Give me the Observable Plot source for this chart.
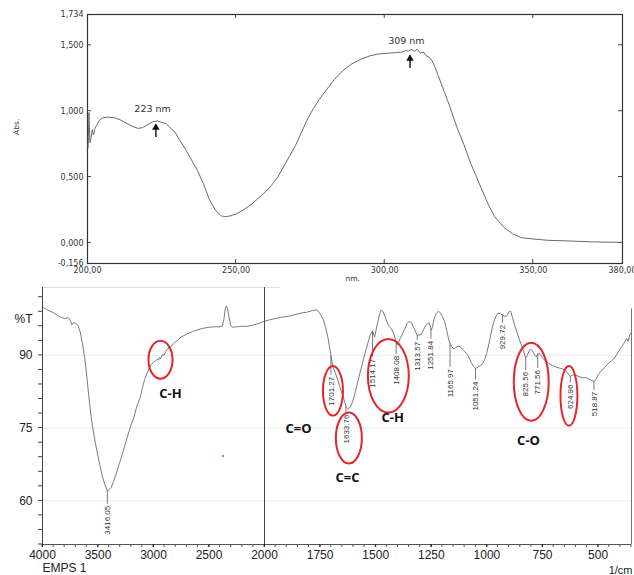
<!DOCTYPE html>
<html><head><meta charset="utf-8">
<script src="https://cdn.jsdelivr.net/npm/d3@7"></script>
<script src="https://cdn.jsdelivr.net/npm/@observablehq/plot@0.6"></script>
<style>
html,body{margin:0;padding:0;background:#fff;}
#chart svg{display:block;}
</style></head><body><div id="chart"></div>
<script>
// ---------- UV-Vis spectrum (top) ----------
const uvNm = [200.2,200.5,200.8,201.2,201.6,202.0,202.5,203,204,205,207,209,211,213,215,217,218.5,220,222,223.5,225,226.5,228,229.5,231,233,235,237,239,241,243,245,246.5,248,250,252,255,258,260,262,264,266,268,270,272,274,276,278,280,283,286,289,292,295,298,301,304,306,307,308,309,310,311,312,313,314,315,316,317,318,319,320,321,322,323,324.6,326.6,329,332,334.7,337,340,343,346,350,355,362,370,380];
const uvAbs = [0.72,0.99,0.76,0.80,0.86,0.82,0.87,0.89,0.93,0.95,0.955,0.95,0.935,0.91,0.885,0.87,0.875,0.895,0.92,0.926,0.915,0.905,0.87,0.84,0.78,0.71,0.63,0.55,0.45,0.33,0.25,0.205,0.20,0.205,0.22,0.245,0.29,0.35,0.39,0.44,0.50,0.58,0.66,0.74,0.84,0.94,1.02,1.09,1.15,1.24,1.31,1.36,1.395,1.42,1.435,1.44,1.445,1.45,1.46,1.455,1.47,1.455,1.47,1.44,1.45,1.42,1.41,1.38,1.33,1.27,1.21,1.15,1.09,1.03,0.96,0.86,0.75,0.60,0.44,0.30,0.20,0.12,0.07,0.04,0.03,0.02,0.015,0.008,0.004];
const uvYTicks = [-0.156, 0, 0.5, 1, 1.5, 1.734];
const uvYInner = [0, 0.5, 1, 1.5];
const uvXTicks = [200, 250, 300, 350, 380];
const uvXInner = [250, 300, 350];
const uvPeakText = ["223 nm", "309 nm"];
const uvPeakNm = [223, 308.5];
const uvArrowBase = [0.80, 1.325];
const uvArrowTip = [0.875, 1.40];
const uvLabelNm = [221.9, 307.3];
const uvLabelAbs = [1.02, 1.53];

// ---------- FTIR spectrum (bottom) ----------
const irWn = [3990,3950,3900,3850,3800,3770,3750,3735,3720,3700,3680,3660,3640,3620,3600,3580,3560,3540,3520,3500,3480,3460,3440,3420,3416,3400,3380,3360,3340,3320,3300,3280,3260,3240,3220,3200,3180,3150,3120,3100,3080,3060,3040,3020,3000,2980,2965,2955,2945,2935,2920,2905,2890,2870,2850,2820,2790,2750,2700,2650,2600,2550,2500,2450,2400,2380,2365,2355,2345,2335,2320,2305,2290,2250,2200,2150,2100,2050,2020,2000,1980,1950,1920,1900,1870,1840,1810,1780,1765,1755,1745,1735,1725,1715,1705,1700,1690,1680,1670,1660,1650,1640,1633,1625,1615,1605,1595,1585,1575,1565,1555,1545,1535,1525,1514,1505,1497,1490,1482,1475,1467,1460,1450,1440,1430,1420,1410,1405,1398,1390,1380,1370,1360,1350,1340,1330,1320,1313,1305,1295,1285,1275,1265,1258,1251,1245,1238,1228,1218,1210,1200,1190,1180,1172,1166,1158,1148,1140,1130,1120,1110,1100,1090,1080,1070,1060,1051,1040,1030,1020,1010,1000,990,980,970,960,950,940,930,920,910,900,893,885,876,865,855,845,835,826,818,810,802,795,785,778,771,764,755,745,735,720,705,690,675,660,650,640,630,625,615,605,595,585,570,555,545,530,519,510,500,490,480,470,460,450,440,430,420,410,400,390,380,372,365,358,352];
const irT = [99.8,99.3,98.8,98.0,97.6,97.8,97.2,96.3,96.8,96.6,96.1,94.8,92.5,89.5,85.5,81.0,77.0,74.0,71.5,69.2,67.0,65.0,63.5,62.3,62.0,62.3,62.8,64.0,65.3,66.8,68.2,69.7,71.3,72.8,74.4,75.8,77.0,79.5,81.3,83.3,85.0,86.2,87.3,88.1,88.6,88.9,89.3,89.0,89.6,89.3,90.2,90.0,90.8,91.4,91.6,92.4,93.0,93.8,94.4,94.9,95.3,95.6,95.8,95.9,95.9,96.0,97.5,99.5,100.2,99.8,98.0,96.2,95.8,95.9,96.0,96.0,96.3,96.6,96.9,97.0,97.3,97.6,97.9,98.0,98.3,98.7,98.9,99.3,99.4,98.9,98.2,97.3,95.7,93.7,91.0,89.5,87.3,86.2,84.8,83.3,82.0,80.5,79.4,79.0,79.3,80.3,81.8,83.8,85.6,87.4,89.2,90.9,92.6,94.2,95.0,93.8,95.5,97.0,98.6,99.4,99.0,98.3,97.0,96.0,95.5,94.6,93.0,92.2,92.5,93.5,94.4,95.4,96.5,97.0,96.8,95.8,94.8,94.2,94.2,94.3,95.3,96.2,96.6,96.6,95.2,95.8,97.5,98.7,99.1,98.8,98.0,97.0,95.0,93.3,92.5,91.8,91.3,91.6,91.9,91.8,91.3,90.8,90.3,89.5,88.5,87.7,87.3,87.6,87.9,88.2,89.2,90.6,92.6,94.8,96.8,98.0,98.7,98.6,98.3,98.0,98.2,99.0,99.1,97.8,96.3,94.8,93.4,92.1,90.8,89.5,90.0,91.0,91.3,90.9,90.1,89.7,90.3,90.4,89.8,89.2,88.8,88.3,87.9,87.6,87.4,87.2,87.0,86.5,85.9,85.7,85.9,86.0,85.8,85.6,85.4,85.4,85.2,84.9,84.6,85.0,86.0,86.6,87.1,87.5,88.1,88.5,88.9,89.3,89.9,90.7,91.4,92.0,92.8,93.5,92.9,94.2,94.6];
const irPeakLabel = ["3416.05","1701.27","1633.76","1514.17","1408.08","1313.57","1251.84","1165.97","1051.24","929.72","825.56","771.56","624.96","518.87"];
const irPeakWn = [3416.05,1701.27,1633.76,1514.17,1408.08,1313.57,1251.84,1165.97,1051.24,929.72,825.56,771.56,624.96,518.87];
const irPeakCurveT = [62.0,89.8,79.4,95.0,92.5,94.2,95.2,92.4,87.3,98.3,89.5,90.3,85.7,84.6];
const irPeakLabelT = [59.3,85.9,78.1,89.6,90.2,93.1,93.3,87.5,84.9,96.6,86.9,87.3,84.3,82.8];
const irXMajor = [4000,3500,3000,2500,2000,1750,1500,1250,1000,750,500];
const irXMinor = [...d3.range(4000, 2000, -100), ...d3.range(2000, 349, -50)];
const irYMinor = d3.range(51, 104, 3);
const irYLabels = [60, 75, 90];
const bandName = ["C-H","C=O","C=C","C-H","C-O"];
const bandWn = [2847,1847,1627,1424,813];
const bandT = [82.0,74.8,64.7,77.1,72.3];
const ringWn1 = [3041,1735,1677,1533,877,667];
const ringWn2 = [2824,1645,1560,1349,720,591];
const ringT1 = [92.9,87.7,78.1,93.3,92.5,87.7];
const ringT2 = [85.1,77.5,67.6,78.1,76.4,75.4];

const fmtAbs = d => (d < 0 ? "-" : "") + Math.abs(d).toFixed(3).replace(".", ",");
const fmtNm = d => d.toFixed(2).replace(".", ",");

// tick marks drawn with the plot's own scales (side: left/right/top/bottom, len > 0 outward, < 0 inward)
function frameTicks(values, side, len, stroke) {
  return (index, scales, channels, dim) => {
    const g = d3.create("svg:g").attr("stroke", stroke).attr("stroke-width", 1);
    const L = dim.marginLeft, R = dim.width - dim.marginRight, T = dim.marginTop, B = dim.height - dim.marginBottom;
    for (const v of values) {
      if (side === "left" || side === "right") {
        const y = scales.y(v), x0 = side === "left" ? L : R, k = side === "left" ? -1 : 1;
        g.append("line").attr("x1", x0).attr("x2", x0 + k * len).attr("y1", y).attr("y2", y);
      } else {
        const x = scales.x(v), y0 = side === "top" ? T : B, k = side === "top" ? -1 : 1;
        g.append("line").attr("x1", x).attr("x2", x).attr("y1", y0).attr("y2", y0 + k * len);
      }
    }
    return g.node();
  };
}

const uvData = uvNm.map((x, i) => ({x, y: uvAbs[i]}));
const uvPeaks = uvPeakNm.map((x, i) => ({x, y1: uvArrowBase[i], y2: uvArrowTip[i], lx: uvLabelNm[i], ly: uvLabelAbs[i], t: uvPeakText[i]}));

const topPlot = Plot.plot({
  width: 634, height: 285,
  marginLeft: 87, marginRight: 12, marginTop: 14, marginBottom: 22,
  style: {fontFamily: "DejaVu Sans", fontSize: "8px", color: "#333", background: "white", overflow: "visible"},
  x: {domain: [200, 380], label: null},
  y: {domain: [-0.156, 1.734], label: null},
  marks: [
    Plot.axisY(uvYTicks, {anchor: "left", tickSize: 0, tickPadding: 4, tickFormat: fmtAbs, fontSize: 8, label: null}),
    Plot.axisX(uvXTicks, {anchor: "bottom", tickSize: 0, tickPadding: 4, tickFormat: fmtNm, fontSize: 8, label: null}),
    frameTicks(uvYInner, "left", -4, "#444"),
    frameTicks(uvYInner, "right", -4, "#444"),
    frameTicks(uvXInner, "bottom", -4, "#444"),
    frameTicks(uvXInner, "top", -4, "#444"),
    Plot.frame({stroke: "#333", strokeWidth: 1.2}),
    Plot.line(uvData, {x: "x", y: "y", stroke: "#6a6a6a", strokeWidth: 1}),
    Plot.ruleX(uvPeaks, {x: "x", y1: "y1", y2: "y2", stroke: "#111", strokeWidth: 1.4}),
    Plot.dot(uvPeaks, {x: "x", y: "y2", symbol: "triangle", r: 2.8, fill: "#111"}),
    Plot.text(uvPeaks, {x: "lx", y: "ly", text: "t", fontSize: 9.5, fill: "#333"}),
    Plot.text(["Abs."], {frameAnchor: "left", y: () => 0.82, dx: -71, rotate: -90, fontSize: 7.5, fill: "#333"}),
    Plot.text(["nm."], {x: () => 289.2, frameAnchor: "bottom", dy: 17, fontSize: 7.5, fill: "#333"})
  ]
});

const irData = irWn.map((x, i) => ({x, y: irT[i]}));
const irPeaks = irPeakWn.map((x, i) => ({x, tc: irPeakCurveT[i], tl: irPeakLabelT[i], label: irPeakLabel[i]}));
const bands = bandName.map((t, i) => ({t, x: bandWn[i], y: bandT[i]}));

function rings(index, {x, y}) {
  const g = d3.create("svg:g");
  ringWn1.forEach((w, i) => {
    const x1 = x(w), x2 = x(ringWn2[i]), y1 = y(ringT1[i]), y2 = y(ringT2[i]);
    g.append("ellipse")
      .attr("cx", (x1 + x2) / 2).attr("cy", (y1 + y2) / 2)
      .attr("rx", Math.abs(x2 - x1) / 2).attr("ry", Math.abs(y2 - y1) / 2)
      .attr("fill", "none").attr("stroke", "#e3262b").attr("stroke-width", 2);
  });
  return g.node();
}

const bottomPlot = Plot.plot({
  width: 634, height: 290,
  marginLeft: 42, marginRight: 3, marginTop: 2, marginBottom: 31,
  style: {fontFamily: "Liberation Sans, Arial, sans-serif", fontSize: "12px", color: "#222", background: "white", overflow: "visible"},
  x: {type: "linear", domain: [4000, 2000, 350], range: [42, 264, 631], label: null},
  y: {domain: [51, 104], label: null},
  marks: [
    Plot.ruleY(irYLabels, {stroke: "#e6eee6", strokeWidth: 1}),
    Plot.ruleY([104], {x1: 4000, x2: 1930, stroke: "#d6e3e9"}),
    Plot.ruleX([350], {y1: 99.6, y2: 51, stroke: "#777"}),
    Plot.ruleX([2000], {stroke: "#444"}),
    Plot.ruleX([4000], {stroke: "#444"}),
    Plot.ruleY([51], {stroke: "#555"}),
    frameTicks(irYMinor, "left", 4, "#444"),
    frameTicks(irXMinor, "bottom", 3, "#555"),
    Plot.axisY(irYLabels, {anchor: "left", tickSize: 0, tickPadding: 10, fontSize: 12, label: null}),
    Plot.axisX(irXMajor, {anchor: "bottom", tickSize: 3, tickPadding: 3, fontSize: 12, tickFormat: d => String(d), label: null}),
    Plot.line(irData, {x: "x", y: "y", stroke: "#7a7a7a", strokeWidth: 1}),
    Plot.ruleX(irPeaks, {x: "x", y1: "tc", y2: "tl", stroke: "#555", strokeWidth: 0.8}),
    Plot.text(irPeaks, {x: "x", y: "tl", text: "label", rotate: -90, textAnchor: "end", dy: 1.5, fontSize: 8, fill: "#333"}),
    rings,
    Plot.text(bands, {x: "x", y: "y", text: "t", fontSize: 13, fontWeight: "bold", fontFamily: "Open Sans", fill: "#111"}),
    Plot.dot([2374], {x: d => d, y: () => 69.25, r: 1, fill: "#4455ff"}),
    Plot.text(["%T"], {x: () => 4000, y: () => 97.4, dx: -10, textAnchor: "end", fontSize: 12}),
    Plot.text(["EMPS 1"], {x: () => 4000, frameAnchor: "bottom", dy: 27, textAnchor: "start", fontSize: 12}),
    Plot.text(["1/cm"], {x: () => 350, frameAnchor: "bottom", dy: 29, dx: 1, textAnchor: "end", fontSize: 11})
  ]
});

const chart = document.getElementById("chart");
chart.append(topPlot, bottomPlot);
</script>
</body></html>
